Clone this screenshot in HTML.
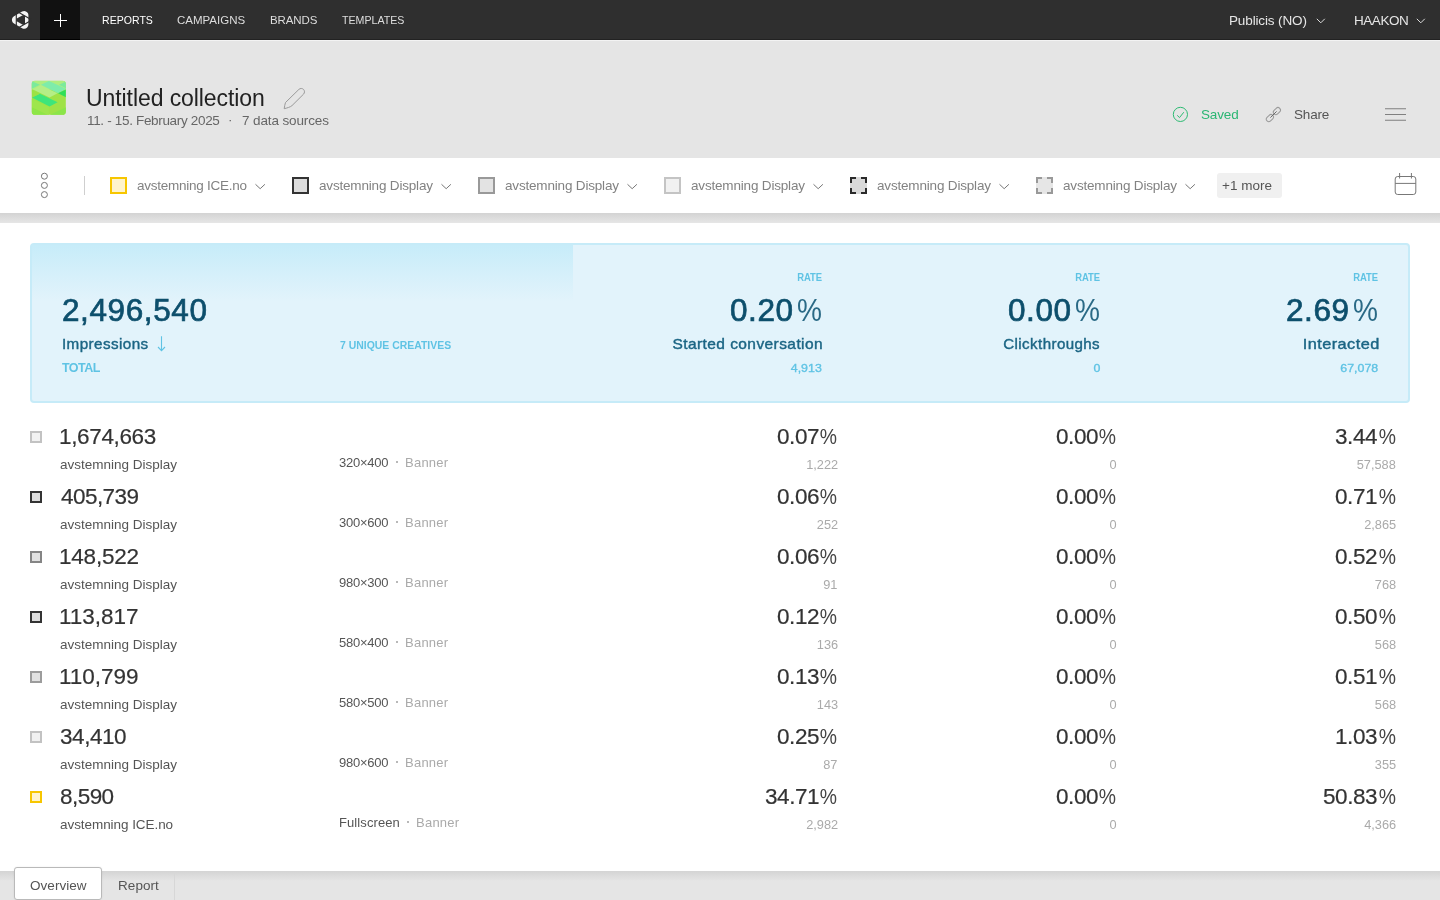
<!DOCTYPE html>
<html lang="en">
<head>
<meta charset="utf-8">
<title>Untitled collection</title>
<style>
html,body{margin:0;padding:0;}
body{width:1440px;height:900px;overflow:hidden;position:relative;background:#fff;font-family:"Liberation Sans",sans-serif;}
.t{position:absolute;line-height:1;white-space:pre;}
.abs{position:absolute;}
#topbar{position:absolute;left:0;top:0;width:1440px;height:39px;background:#2f2f2f;border-bottom:1px solid #222;}
#plus{position:absolute;left:40px;top:0;width:40px;height:39px;background:#111;border-bottom:1px solid #000;}
#header{position:absolute;left:0;top:40px;width:1440px;height:182px;background:#e5e5e5;border-top:1px solid #f3f3f3;}
#filterbar{position:absolute;left:0;top:158px;width:1440px;height:55px;background:#fff;}
#fshadow{position:absolute;left:0;top:213px;width:1440px;height:10px;background:linear-gradient(#d3d3d3,#e6e6e6);}
#panel{position:absolute;left:30px;top:243px;width:1376px;height:156px;border:2px solid #c6ebf8;border-radius:4px;background:#e2f3fb;}
#pgrad{position:absolute;left:0;top:0;width:541px;height:56px;background:linear-gradient(#c7ecf9,#e2f3fb);}
#bottombar{position:absolute;left:0;top:871px;width:1440px;height:29px;background:linear-gradient(#d4d4d4,#e5e5e5 10px,#e5e5e5);}
#tab1{position:absolute;left:14px;top:867px;width:86px;height:30.6px;background:#fff;border:1px solid #b9b9b9;border-radius:3px;box-shadow:0 0 2px rgba(0,0,0,.08);}
.sq{position:absolute;box-sizing:border-box;width:17px;height:17px;border:2px solid #333;background:#ddd;top:177px;}
.rs{position:absolute;box-sizing:border-box;width:12px;height:12px;border:2px solid #333;background:#ddd;left:30px;}
svg{position:absolute;overflow:visible;}
</style>
</head>
<body>
<nav>
<div id="topbar"></div>
<div id="plus"></div>
<!-- logo -->
<svg style="left:0;top:0" width="40" height="40" viewBox="0 0 40 40">
  <path d="M16.10 19.90 Q20.15 17.56 24.20 15.22 Q24.20 19.90 24.20 24.58 Q20.15 22.24 16.10 19.90 Z" fill="#f4f4f4" stroke="#f4f4f4" stroke-width="8.4" stroke-linejoin="round"/>
  <path d="M25.00 23.88 L23.20 24.92 L16.30 20.94 L16.30 18.86 L23.20 14.88 L25.00 15.92 Z" fill="#2f2f2f"/>
  <path d="M16.30 27.90 L16.30 11.90 M17.17 11.40 L31.03 19.40 M31.03 20.40 L17.17 28.40" stroke="#2f2f2f" stroke-width="1.15" fill="none"/>
</svg>
<!-- plus -->
<svg style="left:40px;top:0" width="40" height="40" viewBox="0 0 40 40"><path d="M14 20.5 H27 M20.5 14 V27" stroke="#fff" stroke-width="1" fill="none"/></svg>
<!-- top chevrons -->
<svg style="left:1316px;top:17px" width="10" height="8" viewBox="0 0 10 8"><path d="M0.8 1.8 L4.8 5.8 L8.8 1.8" stroke="#ddd" stroke-width="1" fill="none"/></svg>
<svg style="left:1416px;top:17px" width="10" height="8" viewBox="0 0 10 8"><path d="M0.8 1.8 L4.8 5.8 L8.8 1.8" stroke="#ddd" stroke-width="1" fill="none"/></svg>

<div class="t" style="left:102px;top:15px;font-size:11.5px;color:#ffffff;transform:scaleX(0.917);transform-origin:1px 50%;">REPORTS</div>
<div class="t" style="left:177px;top:15px;font-size:11.5px;color:#dddddd;">CAMPAIGNS</div>
<div class="t" style="left:270px;top:15px;font-size:11.5px;letter-spacing:-0.1px;color:#dddddd;">BRANDS</div>
<div class="t" style="left:342px;top:15px;font-size:11.5px;color:#dddddd;transform:scaleX(0.925);transform-origin:0px 50%;">TEMPLATES</div>
<div class="t" style="left:1229px;top:14px;font-size:13.5px;letter-spacing:-0.13px;color:#e6e6e6;">Publicis (NO)</div>
<div class="t" style="left:1354px;top:14px;font-size:13.5px;letter-spacing:-0.46px;color:#e6e6e6;">HAAKON</div>
</nav>
<header>
<div id="header"></div>
<!-- app icon -->
<svg style="left:31px;top:80px" width="36" height="36" viewBox="0 0 36 36">
  <defs><clipPath id="ic"><rect x="0.3" y="0.3" width="35.2" height="35.2" rx="3.5"/></clipPath></defs>
  <g transform="translate(0.4 0.4) scale(0.9694)"><g clip-path="url(#ic)">
    <rect width="36" height="36" fill="#9fe247"/>
    <rect width="36" height="9.5" fill="#aeee80"/>
    <polygon points="0,0.5 8.8,4.4 0,8.8" fill="#7bea9c"/>
    <polygon points="1.6,9.3 9.9,5 27,13.2 18.7,17.6" fill="#b5ee86"/>
    <polygon points="9.9,4.4 18.1,0.5 36,8.8 27.5,13.2" fill="#7eecaa"/>
    <polygon points="28.5,4.4 36,1 36,8.2" fill="#7bea9c"/>
    <polygon points="27.5,13.2 36,9.3 36,17.6" fill="#2fdf58"/>
    <polygon points="0.5,17.6 8.8,13.7 27,22.5 18.7,27" fill="#3ee57b"/>
    <polygon points="0,9.3 8.8,13.7 0.5,17.6" fill="#9ce244"/>
    <polygon points="0,27.5 18.1,36 0,36" fill="#8ee647"/>
    <polygon points="36,27.5 18.1,36 36,36" fill="#8be54a"/>
    <polygon points="0,19 18.1,27.5 18.1,36 0,27.5" fill="#9ee64c"/>
  </g></g>
</svg>
<!-- pencil -->
<svg style="left:276px;top:80px" width="36" height="36" viewBox="276 80 36 36"><path d="M284.2 108.7 C284.5 106.6 284.9 104.2 285.5 102.5 L298.9 89.4 C300.3 88.1 302.4 88.2 303.6 89.5 C304.8 90.8 304.8 92.8 303.5 94.2 L292 105.6 C290.4 107.1 287 108 284.2 108.7 Z" stroke="#9a9a9a" stroke-width="1" fill="none" stroke-linejoin="round"/></svg>
<!-- saved check -->
<svg style="left:1165px;top:100px" width="30" height="30" viewBox="1165 100 30 30"><circle cx="1180.4" cy="114.4" r="7.1" stroke="#2dbb73" stroke-width="1" fill="none"/><path d="M1177.2 115.3 L1179.5 117.6 L1183.8 112.2" stroke="#2dbb73" stroke-width="1" fill="none"/></svg>
<!-- link -->
<svg style="left:1258px;top:99px" width="30" height="30" viewBox="1258 99 30 30">
 <g fill="none" stroke="#9a9a9a" stroke-width="1">
  <rect x="-4" y="-2.5" width="8" height="5" rx="2.5" transform="translate(1276.9 111.1) rotate(-45)"/>
  <rect x="-4" y="-2.5" width="8" height="5" rx="2.5" transform="translate(1269.9 118.1) rotate(-45)"/>
 </g>
 <path d="M1270.4 117.6 L1276.6 111.4" stroke="#6a6a6a" stroke-width="1" fill="none"/>
</svg>
<!-- hamburger -->
<svg style="left:1380px;top:100px" width="30" height="30" viewBox="1380 100 30 30"><path d="M1385 108.8 H1406 M1385 114.5 H1406 M1385 120.2 H1406" stroke="#808080" stroke-width="1.1" fill="none"/></svg>

<div class="t" style="left:86px;top:87px;font-size:23.0px;letter-spacing:-0.08px;color:#222222;">Untitled collection</div>
<div class="t" style="left:87px;top:114px;font-size:13.5px;letter-spacing:-0.33px;color:#666666;">11. - 15. February 2025</div>
<div class="t" style="left:228px;top:113px;font-size:13.5px;color:#666666;">·</div>
<div class="t" style="left:242px;top:114px;font-size:13.5px;letter-spacing:-0.12px;color:#666666;">7 data sources</div>
<div class="t" style="left:1201px;top:108px;font-size:13.5px;letter-spacing:-0.15px;color:#2bb673;">Saved</div>
<div class="t" style="left:1294px;top:108px;font-size:13.5px;letter-spacing:-0.18px;color:#555555;">Share</div>
</header>
<section id="filters">
<div id="filterbar"></div>
<div id="fshadow"></div>
<!-- filter bar widgets -->
<svg style="left:38px;top:170px" width="14" height="30" viewBox="38 170 14 30"><g fill="none" stroke="#777" stroke-width="1"><circle cx="44.4" cy="176.2" r="3"/><circle cx="44.4" cy="185.4" r="3"/><circle cx="44.4" cy="194.6" r="3"/></g></svg>
<div class="abs" style="left:84px;top:176px;width:1px;height:19px;background:#cfcfcf"></div>
<div class="sq" style="left:110px;border-color:#f7c600;background:#fff4cc"></div>
<div class="sq" style="left:292px;border-color:#333;background:#dcdcdc"></div>
<div class="sq" style="left:478px;border-color:#999;background:#e3e3e3"></div>
<div class="sq" style="left:664px;border-color:#c4c4c4;background:#f1f1f1"></div>
<div class="sq" style="left:850px;border:2px dashed #2b2b2b;background:#dadada"></div>
<div class="sq" style="left:1036px;border:2px dashed #999;background:#e6e6e6"></div>
<svg style="left:254.7px;top:183px" width="11" height="8" viewBox="0 0 11 8"><path d="M0.5 1.3 L5.2 5.7 L9.9 1.3" stroke="#777" stroke-width="1" fill="none"/></svg>
<svg style="left:440.8px;top:183px" width="11" height="8" viewBox="0 0 11 8"><path d="M0.5 1.3 L5.2 5.7 L9.9 1.3" stroke="#777" stroke-width="1" fill="none"/></svg>
<svg style="left:626.8px;top:183px" width="11" height="8" viewBox="0 0 11 8"><path d="M0.5 1.3 L5.2 5.7 L9.9 1.3" stroke="#777" stroke-width="1" fill="none"/></svg>
<svg style="left:812.8px;top:183px" width="11" height="8" viewBox="0 0 11 8"><path d="M0.5 1.3 L5.2 5.7 L9.9 1.3" stroke="#777" stroke-width="1" fill="none"/></svg>
<svg style="left:998.8px;top:183px" width="11" height="8" viewBox="0 0 11 8"><path d="M0.5 1.3 L5.2 5.7 L9.9 1.3" stroke="#777" stroke-width="1" fill="none"/></svg>
<svg style="left:1184.8px;top:183px" width="11" height="8" viewBox="0 0 11 8"><path d="M0.5 1.3 L5.2 5.7 L9.9 1.3" stroke="#777" stroke-width="1" fill="none"/></svg>

<div class="abs" style="left:1217px;top:173px;width:65px;height:25px;background:#f0f0f0;border-radius:3px"></div>
<!-- calendar -->
<svg style="left:1390px;top:168px" width="30" height="32" viewBox="1390 168 30 32"><g fill="none" stroke="#777" stroke-width="1"><rect x="1395.2" y="176.5" width="20.6" height="18" rx="2.5"/><path d="M1395.2 183.4 H1415.8 M1399.6 173 V178.5 M1411.4 173 V178.5"/></g></svg>

<div class="t" style="left:137px;top:179px;font-size:13.5px;letter-spacing:-0.26px;color:#828282;">avstemning ICE.no</div>
<div class="t" style="left:319px;top:179px;font-size:13.5px;letter-spacing:-0.18px;color:#828282;">avstemning Display</div>
<div class="t" style="left:505px;top:179px;font-size:13.5px;letter-spacing:-0.18px;color:#828282;">avstemning Display</div>
<div class="t" style="left:691px;top:179px;font-size:13.5px;letter-spacing:-0.18px;color:#828282;">avstemning Display</div>
<div class="t" style="left:877px;top:179px;font-size:13.5px;letter-spacing:-0.18px;color:#828282;">avstemning Display</div>
<div class="t" style="left:1063px;top:179px;font-size:13.5px;letter-spacing:-0.18px;color:#828282;">avstemning Display</div>
<div class="t" style="left:1222px;top:179px;font-size:13.5px;color:#555555;">+1 more</div>
</section>
<section id="summary">
<div id="panel"><div id="pgrad"></div></div>
<!-- arrow down -->
<svg style="left:155px;top:334px" width="14" height="20" viewBox="155 334 14 20"><path d="M161.5 336.2 V350.4 M158 347 L161.5 350.6 L165 347" stroke="#5fc3e4" stroke-width="1.1" fill="none"/></svg>

<div class="t" style="left:62px;top:295px;font-size:31.5px;letter-spacing:0.6px;color:#0d4f6c;-webkit-text-stroke:0.7px #0d4f6c;">2,496,540</div>
<div class="t" style="left:62px;top:337px;font-size:14.5px;letter-spacing:0.4px;color:#1b6584;-webkit-text-stroke:0.4px #1b6584;transform:scaleX(1.049);transform-origin:1px 50%;">Impressions</div>
<div class="t" style="left:62px;top:362px;font-size:12.5px;font-weight:700;letter-spacing:-0.55px;color:#5fc3e4;">TOTAL</div>
<div class="t" style="left:340px;top:340px;font-size:11.5px;font-weight:700;color:#5fc3e4;transform:scaleX(0.907);transform-origin:0px 50%;">7 UNIQUE CREATIVES</div>
<div class="t" style="left:793px;top:272px;font-size:11.0px;font-weight:700;color:#5fc3e4;transform:scaleX(0.857);transform-origin:29px 50%;">RATE</div>
<div class="t" style="left:795px;top:295px;font-size:30.5px;color:#2a6a86;transform:scaleX(0.92);transform-origin:26px 50%;">%</div>
<div class="t" style="left:730px;top:295px;font-size:31.5px;letter-spacing:0.6px;color:#0d4f6c;-webkit-text-stroke:0.7px #0d4f6c;">0.20</div>
<div class="t" style="left:682px;top:337px;font-size:14.5px;letter-spacing:0.4px;color:#1b6584;-webkit-text-stroke:0.4px #1b6584;transform:scaleX(1.068);transform-origin:140px 50%;">Started conversation</div>
<div class="t" style="left:793px;top:363px;font-size:11.5px;color:#5fc3e4;-webkit-text-stroke:0.35px #5fc3e4;transform:scaleX(1.076);transform-origin:29px 50%;">4,913</div>
<div class="t" style="left:1071px;top:272px;font-size:11.0px;font-weight:700;color:#5fc3e4;transform:scaleX(0.857);transform-origin:29px 50%;">RATE</div>
<div class="t" style="left:1073px;top:295px;font-size:30.5px;color:#2a6a86;transform:scaleX(0.92);transform-origin:26px 50%;">%</div>
<div class="t" style="left:1008px;top:295px;font-size:31.5px;letter-spacing:0.6px;color:#0d4f6c;-webkit-text-stroke:0.7px #0d4f6c;">0.00</div>
<div class="t" style="left:1007px;top:337px;font-size:14.5px;letter-spacing:0.4px;color:#1b6584;-webkit-text-stroke:0.4px #1b6584;transform:scaleX(1.04);transform-origin:93px 50%;">Clickthroughs</div>
<div class="t" style="left:1094px;top:363px;font-size:11.5px;color:#5fc3e4;-webkit-text-stroke:0.35px #5fc3e4;transform:scaleX(1.076);transform-origin:6px 50%;">0</div>
<div class="t" style="left:1349px;top:272px;font-size:11.0px;font-weight:700;color:#5fc3e4;transform:scaleX(0.857);transform-origin:29px 50%;">RATE</div>
<div class="t" style="left:1351px;top:295px;font-size:30.5px;color:#2a6a86;transform:scaleX(0.92);transform-origin:26px 50%;">%</div>
<div class="t" style="left:1286px;top:295px;font-size:31.5px;letter-spacing:0.6px;color:#0d4f6c;-webkit-text-stroke:0.7px #0d4f6c;">2.69</div>
<div class="t" style="left:1311px;top:337px;font-size:14.5px;letter-spacing:0.4px;color:#1b6584;-webkit-text-stroke:0.4px #1b6584;transform:scaleX(1.124);transform-origin:67px 50%;">Interacted</div>
<div class="t" style="left:1343px;top:363px;font-size:11.5px;color:#5fc3e4;-webkit-text-stroke:0.35px #5fc3e4;transform:scaleX(1.076);transform-origin:35px 50%;">67,078</div>
</section>
<main>
<div class="row">
<div class="rs" style="top:431px;border-color:#c2c2c2;background:#f2f2f2"></div>
<div class="abs" style="left:395.5px;top:460.5px;width:2px;height:2px;background:#a0a0a0;border-radius:1px"></div>
<div class="t" style="left:59px;top:426px;font-size:22.5px;letter-spacing:-0.35px;color:#333333;-webkit-text-stroke:0.2px #333333;">1,674,663</div>
<div class="t" style="left:60px;top:458px;font-size:13.5px;letter-spacing:-0.01px;color:#555555;">avstemning Display</div>
<div class="t" style="left:339px;top:456px;font-size:13.0px;letter-spacing:-0.23px;color:#555555;">320×400</div>
<div class="t" style="left:405px;top:456px;font-size:13.0px;letter-spacing:0.24px;color:#aaaaaa;">Banner</div>
<div class="t" style="left:817px;top:426px;font-size:22.5px;color:#444444;transform:scaleX(0.861);transform-origin:19px 50%;">%</div>
<div class="t" style="left:777px;top:426px;font-size:22.5px;letter-spacing:-0.43px;color:#333333;-webkit-text-stroke:0.2px #333333;">0.07</div>
<div class="t" style="left:808px;top:459px;font-size:12.0px;color:#aaaaaa;transform:scaleX(1.064);transform-origin:29px 50%;">1,222</div>
<div class="t" style="left:1096px;top:426px;font-size:22.5px;color:#444444;transform:scaleX(0.861);transform-origin:19px 50%;">%</div>
<div class="t" style="left:1056px;top:426px;font-size:22.5px;letter-spacing:-0.43px;color:#333333;-webkit-text-stroke:0.2px #333333;">0.00</div>
<div class="t" style="left:1110px;top:459px;font-size:12.0px;color:#aaaaaa;transform:scaleX(1.064);transform-origin:6px 50%;">0</div>
<div class="t" style="left:1376px;top:426px;font-size:22.5px;color:#444444;transform:scaleX(0.861);transform-origin:19px 50%;">%</div>
<div class="t" style="left:1335px;top:426px;font-size:22.5px;letter-spacing:-0.43px;color:#333333;-webkit-text-stroke:0.2px #333333;">3.44</div>
<div class="t" style="left:1359px;top:459px;font-size:12.0px;color:#aaaaaa;transform:scaleX(1.064);transform-origin:36px 50%;">57,588</div>
</div>
<div class="row">
<div class="rs" style="top:491px;border-color:#333;background:#dcdcdc"></div>
<div class="abs" style="left:395.5px;top:520.5px;width:2px;height:2px;background:#a0a0a0;border-radius:1px"></div>
<div class="t" style="left:61px;top:486px;font-size:22.5px;letter-spacing:-0.55px;color:#333333;-webkit-text-stroke:0.2px #333333;">405,739</div>
<div class="t" style="left:60px;top:518px;font-size:13.5px;letter-spacing:-0.01px;color:#555555;">avstemning Display</div>
<div class="t" style="left:339px;top:516px;font-size:13.0px;letter-spacing:-0.23px;color:#555555;">300×600</div>
<div class="t" style="left:405px;top:516px;font-size:13.0px;letter-spacing:0.24px;color:#aaaaaa;">Banner</div>
<div class="t" style="left:817px;top:486px;font-size:22.5px;color:#444444;transform:scaleX(0.861);transform-origin:19px 50%;">%</div>
<div class="t" style="left:777px;top:486px;font-size:22.5px;letter-spacing:-0.43px;color:#333333;-webkit-text-stroke:0.2px #333333;">0.06</div>
<div class="t" style="left:818px;top:519px;font-size:12.0px;color:#aaaaaa;transform:scaleX(1.064);transform-origin:19px 50%;">252</div>
<div class="t" style="left:1096px;top:486px;font-size:22.5px;color:#444444;transform:scaleX(0.861);transform-origin:19px 50%;">%</div>
<div class="t" style="left:1056px;top:486px;font-size:22.5px;letter-spacing:-0.43px;color:#333333;-webkit-text-stroke:0.2px #333333;">0.00</div>
<div class="t" style="left:1110px;top:519px;font-size:12.0px;color:#aaaaaa;transform:scaleX(1.064);transform-origin:6px 50%;">0</div>
<div class="t" style="left:1376px;top:486px;font-size:22.5px;color:#444444;transform:scaleX(0.861);transform-origin:19px 50%;">%</div>
<div class="t" style="left:1335px;top:486px;font-size:22.5px;letter-spacing:-0.43px;color:#333333;-webkit-text-stroke:0.2px #333333;">0.71</div>
<div class="t" style="left:1366px;top:519px;font-size:12.0px;color:#aaaaaa;transform:scaleX(1.064);transform-origin:29px 50%;">2,865</div>
</div>
<div class="row">
<div class="rs" style="top:551px;border-color:#858585;background:#e2e2e2"></div>
<div class="abs" style="left:395.5px;top:580.5px;width:2px;height:2px;background:#a0a0a0;border-radius:1px"></div>
<div class="t" style="left:59px;top:546px;font-size:22.5px;letter-spacing:-0.22px;color:#333333;-webkit-text-stroke:0.2px #333333;">148,522</div>
<div class="t" style="left:60px;top:578px;font-size:13.5px;letter-spacing:-0.01px;color:#555555;">avstemning Display</div>
<div class="t" style="left:339px;top:576px;font-size:13.0px;letter-spacing:-0.23px;color:#555555;">980×300</div>
<div class="t" style="left:405px;top:576px;font-size:13.0px;letter-spacing:0.24px;color:#aaaaaa;">Banner</div>
<div class="t" style="left:817px;top:546px;font-size:22.5px;color:#444444;transform:scaleX(0.861);transform-origin:19px 50%;">%</div>
<div class="t" style="left:777px;top:546px;font-size:22.5px;letter-spacing:-0.43px;color:#333333;-webkit-text-stroke:0.2px #333333;">0.06</div>
<div class="t" style="left:824px;top:579px;font-size:12.0px;color:#aaaaaa;transform:scaleX(1.064);transform-origin:13px 50%;">91</div>
<div class="t" style="left:1096px;top:546px;font-size:22.5px;color:#444444;transform:scaleX(0.861);transform-origin:19px 50%;">%</div>
<div class="t" style="left:1056px;top:546px;font-size:22.5px;letter-spacing:-0.43px;color:#333333;-webkit-text-stroke:0.2px #333333;">0.00</div>
<div class="t" style="left:1110px;top:579px;font-size:12.0px;color:#aaaaaa;transform:scaleX(1.064);transform-origin:6px 50%;">0</div>
<div class="t" style="left:1376px;top:546px;font-size:22.5px;color:#444444;transform:scaleX(0.861);transform-origin:19px 50%;">%</div>
<div class="t" style="left:1335px;top:546px;font-size:22.5px;letter-spacing:-0.43px;color:#333333;-webkit-text-stroke:0.2px #333333;">0.52</div>
<div class="t" style="left:1376px;top:579px;font-size:12.0px;color:#aaaaaa;transform:scaleX(1.064);transform-origin:19px 50%;">768</div>
</div>
<div class="row">
<div class="rs" style="top:611px;border-color:#333;background:#dcdcdc"></div>
<div class="abs" style="left:395.5px;top:640.5px;width:2px;height:2px;background:#a0a0a0;border-radius:1px"></div>
<div class="t" style="left:59px;top:606px;font-size:22.5px;letter-spacing:-0.03px;color:#333333;-webkit-text-stroke:0.2px #333333;">113,817</div>
<div class="t" style="left:60px;top:638px;font-size:13.5px;letter-spacing:-0.01px;color:#555555;">avstemning Display</div>
<div class="t" style="left:339px;top:636px;font-size:13.0px;letter-spacing:-0.23px;color:#555555;">580×400</div>
<div class="t" style="left:405px;top:636px;font-size:13.0px;letter-spacing:0.24px;color:#aaaaaa;">Banner</div>
<div class="t" style="left:817px;top:606px;font-size:22.5px;color:#444444;transform:scaleX(0.861);transform-origin:19px 50%;">%</div>
<div class="t" style="left:777px;top:606px;font-size:22.5px;letter-spacing:-0.43px;color:#333333;-webkit-text-stroke:0.2px #333333;">0.12</div>
<div class="t" style="left:818px;top:639px;font-size:12.0px;color:#aaaaaa;transform:scaleX(1.064);transform-origin:19px 50%;">136</div>
<div class="t" style="left:1096px;top:606px;font-size:22.5px;color:#444444;transform:scaleX(0.861);transform-origin:19px 50%;">%</div>
<div class="t" style="left:1056px;top:606px;font-size:22.5px;letter-spacing:-0.43px;color:#333333;-webkit-text-stroke:0.2px #333333;">0.00</div>
<div class="t" style="left:1110px;top:639px;font-size:12.0px;color:#aaaaaa;transform:scaleX(1.064);transform-origin:6px 50%;">0</div>
<div class="t" style="left:1376px;top:606px;font-size:22.5px;color:#444444;transform:scaleX(0.861);transform-origin:19px 50%;">%</div>
<div class="t" style="left:1335px;top:606px;font-size:22.5px;letter-spacing:-0.43px;color:#333333;-webkit-text-stroke:0.2px #333333;">0.50</div>
<div class="t" style="left:1376px;top:639px;font-size:12.0px;color:#aaaaaa;transform:scaleX(1.064);transform-origin:19px 50%;">568</div>
</div>
<div class="row">
<div class="rs" style="top:671px;border-color:#9c9c9c;background:#e2e2e2"></div>
<div class="abs" style="left:395.5px;top:700.5px;width:2px;height:2px;background:#a0a0a0;border-radius:1px"></div>
<div class="t" style="left:59px;top:666px;font-size:22.5px;letter-spacing:-0.03px;color:#333333;-webkit-text-stroke:0.2px #333333;">110,799</div>
<div class="t" style="left:60px;top:698px;font-size:13.5px;letter-spacing:-0.01px;color:#555555;">avstemning Display</div>
<div class="t" style="left:339px;top:696px;font-size:13.0px;letter-spacing:-0.23px;color:#555555;">580×500</div>
<div class="t" style="left:405px;top:696px;font-size:13.0px;letter-spacing:0.24px;color:#aaaaaa;">Banner</div>
<div class="t" style="left:817px;top:666px;font-size:22.5px;color:#444444;transform:scaleX(0.861);transform-origin:19px 50%;">%</div>
<div class="t" style="left:777px;top:666px;font-size:22.5px;letter-spacing:-0.43px;color:#333333;-webkit-text-stroke:0.2px #333333;">0.13</div>
<div class="t" style="left:818px;top:699px;font-size:12.0px;color:#aaaaaa;transform:scaleX(1.064);transform-origin:19px 50%;">143</div>
<div class="t" style="left:1096px;top:666px;font-size:22.5px;color:#444444;transform:scaleX(0.861);transform-origin:19px 50%;">%</div>
<div class="t" style="left:1056px;top:666px;font-size:22.5px;letter-spacing:-0.43px;color:#333333;-webkit-text-stroke:0.2px #333333;">0.00</div>
<div class="t" style="left:1110px;top:699px;font-size:12.0px;color:#aaaaaa;transform:scaleX(1.064);transform-origin:6px 50%;">0</div>
<div class="t" style="left:1376px;top:666px;font-size:22.5px;color:#444444;transform:scaleX(0.861);transform-origin:19px 50%;">%</div>
<div class="t" style="left:1335px;top:666px;font-size:22.5px;letter-spacing:-0.43px;color:#333333;-webkit-text-stroke:0.2px #333333;">0.51</div>
<div class="t" style="left:1376px;top:699px;font-size:12.0px;color:#aaaaaa;transform:scaleX(1.064);transform-origin:19px 50%;">568</div>
</div>
<div class="row">
<div class="rs" style="top:731px;border-color:#c2c2c2;background:#f1f1f1"></div>
<div class="abs" style="left:395.5px;top:760.5px;width:2px;height:2px;background:#a0a0a0;border-radius:1px"></div>
<div class="t" style="left:60px;top:726px;font-size:22.5px;letter-spacing:-0.44px;color:#333333;-webkit-text-stroke:0.2px #333333;">34,410</div>
<div class="t" style="left:60px;top:758px;font-size:13.5px;letter-spacing:-0.01px;color:#555555;">avstemning Display</div>
<div class="t" style="left:339px;top:756px;font-size:13.0px;letter-spacing:-0.23px;color:#555555;">980×600</div>
<div class="t" style="left:405px;top:756px;font-size:13.0px;letter-spacing:0.24px;color:#aaaaaa;">Banner</div>
<div class="t" style="left:817px;top:726px;font-size:22.5px;color:#444444;transform:scaleX(0.861);transform-origin:19px 50%;">%</div>
<div class="t" style="left:777px;top:726px;font-size:22.5px;letter-spacing:-0.43px;color:#333333;-webkit-text-stroke:0.2px #333333;">0.25</div>
<div class="t" style="left:824px;top:759px;font-size:12.0px;color:#aaaaaa;transform:scaleX(1.064);transform-origin:13px 50%;">87</div>
<div class="t" style="left:1096px;top:726px;font-size:22.5px;color:#444444;transform:scaleX(0.861);transform-origin:19px 50%;">%</div>
<div class="t" style="left:1056px;top:726px;font-size:22.5px;letter-spacing:-0.43px;color:#333333;-webkit-text-stroke:0.2px #333333;">0.00</div>
<div class="t" style="left:1110px;top:759px;font-size:12.0px;color:#aaaaaa;transform:scaleX(1.064);transform-origin:6px 50%;">0</div>
<div class="t" style="left:1376px;top:726px;font-size:22.5px;color:#444444;transform:scaleX(0.861);transform-origin:19px 50%;">%</div>
<div class="t" style="left:1335px;top:726px;font-size:22.5px;letter-spacing:-0.43px;color:#333333;-webkit-text-stroke:0.2px #333333;">1.03</div>
<div class="t" style="left:1376px;top:759px;font-size:12.0px;color:#aaaaaa;transform:scaleX(1.064);transform-origin:19px 50%;">355</div>
</div>
<div class="row">
<div class="rs" style="top:791px;border-color:#f7c600;background:#fff4cc"></div>
<div class="abs" style="left:406.5px;top:820.5px;width:2px;height:2px;background:#a0a0a0;border-radius:1px"></div>
<div class="t" style="left:60px;top:786px;font-size:22.5px;letter-spacing:-0.55px;color:#333333;-webkit-text-stroke:0.2px #333333;">8,590</div>
<div class="t" style="left:60px;top:818px;font-size:13.5px;letter-spacing:-0.06px;color:#555555;">avstemning ICE.no</div>
<div class="t" style="left:339px;top:816px;font-size:13.0px;letter-spacing:0.09px;color:#555555;">Fullscreen</div>
<div class="t" style="left:416px;top:816px;font-size:13.0px;letter-spacing:0.24px;color:#aaaaaa;">Banner</div>
<div class="t" style="left:817px;top:786px;font-size:22.5px;color:#444444;transform:scaleX(0.861);transform-origin:19px 50%;">%</div>
<div class="t" style="left:765px;top:786px;font-size:22.5px;letter-spacing:-0.43px;color:#333333;-webkit-text-stroke:0.2px #333333;">34.71</div>
<div class="t" style="left:808px;top:819px;font-size:12.0px;color:#aaaaaa;transform:scaleX(1.064);transform-origin:29px 50%;">2,982</div>
<div class="t" style="left:1096px;top:786px;font-size:22.5px;color:#444444;transform:scaleX(0.861);transform-origin:19px 50%;">%</div>
<div class="t" style="left:1056px;top:786px;font-size:22.5px;letter-spacing:-0.43px;color:#333333;-webkit-text-stroke:0.2px #333333;">0.00</div>
<div class="t" style="left:1110px;top:819px;font-size:12.0px;color:#aaaaaa;transform:scaleX(1.064);transform-origin:6px 50%;">0</div>
<div class="t" style="left:1376px;top:786px;font-size:22.5px;color:#444444;transform:scaleX(0.861);transform-origin:19px 50%;">%</div>
<div class="t" style="left:1323px;top:786px;font-size:22.5px;letter-spacing:-0.43px;color:#333333;-webkit-text-stroke:0.2px #333333;">50.83</div>
<div class="t" style="left:1366px;top:819px;font-size:12.0px;color:#aaaaaa;transform:scaleX(1.064);transform-origin:29px 50%;">4,366</div>
</div>
</main>
<footer>
<div id="bottombar"></div>
<div class="abs" style="left:174px;top:872px;width:1px;height:28px;background:#d7d7d7"></div>
<div id="tab1"></div>
<div class="t" style="left:30px;top:879px;font-size:13.5px;letter-spacing:0.04px;color:#555555;">Overview</div>
<div class="t" style="left:118px;top:879px;font-size:13.5px;letter-spacing:0.06px;color:#555555;">Report</div>
</footer>
</body>
</html>
